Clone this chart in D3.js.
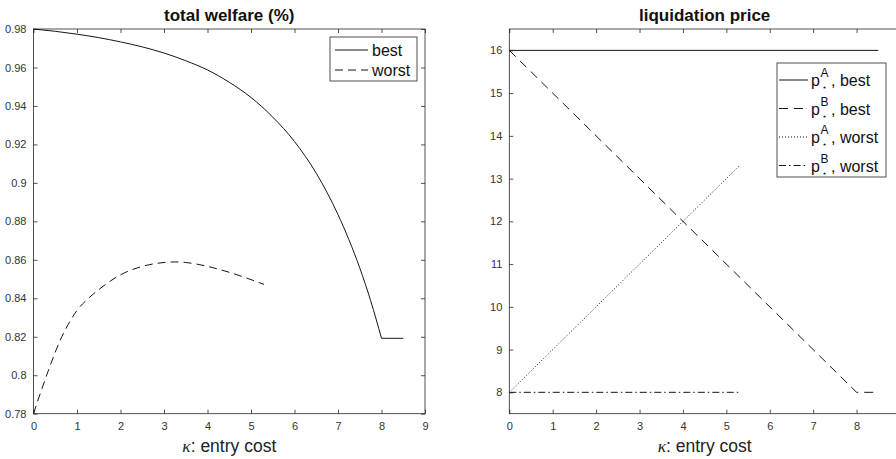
<!DOCTYPE html>
<html><head><meta charset="utf-8">
<script src="https://cdn.jsdelivr.net/npm/d3@7"></script>
<style>
body{margin:0;background:#fff;}
svg{display:block;font-family:"Liberation Sans",Arial,Helvetica,sans-serif;}
</style></head>
<body>
<svg id="c" width="896" height="459"></svg>
<script>
// ---- data ----
const kappaTicks = [0,1,2,3,4,5,6,7,8,9];
const kappaTicksRight = [0,1,2,3,4,5,6,7,8];
const welfareTicks = [0.78,0.8,0.82,0.84,0.86,0.88,0.9,0.92,0.94,0.96,0.98];
const priceTicks = [8,9,10,11,12,13,14,15,16];

const kappaBest = [0,0.5,1,1.5,2,2.5,3,3.5,4,4.5,5,5.5,6,6.5,7,7.25,7.5,7.75,8,8.5];
const welfareBest = [0.98,0.9788,0.9773,0.9755,0.9733,0.9707,0.9675,0.9635,0.9587,0.9523,0.9444,0.9342,0.9215,0.905,0.8835,0.8705,0.8558,0.8388,0.8192,0.8192];
const kappaWorst = [0,0.2,0.4,0.6,0.8,1,1.25,1.5,2,2.5,3,3.25,3.5,4,4.5,5,5.3];
const welfareWorst = [0.78,0.7934,0.806,0.8175,0.8265,0.8337,0.8397,0.8445,0.8522,0.8566,0.8586,0.8589,0.8586,0.8566,0.8535,0.8497,0.8472];

const kappaPABest = [0,8.5];   const pABest = [16,16];
const kappaPBBest = [0,8,8.5]; const pBBest = [16,8,8];
const kappaPAWorst = [0,5.3];  const pAWorst = [8,13.3];
const kappaPBWorst = [0,5.3];  const pBWorst = [8,8];

// ---- drawing ----
const svg = d3.select("#c");
const AX = "#262626";
const yTop = 29, yBot = 413.7;

function panel(x0, x1, yDomain, yTicks, yFmt, xTicks, title) {
  const g = svg.append("g");
  const x = d3.scaleLinear().domain([0,9]).range([x0,x1]);
  const y = d3.scaleLinear().domain(yDomain).range([yBot,yTop]);
  const tl = 4;
  g.append("rect").attr("x",x0).attr("y",yTop).attr("width",x1-x0).attr("height",yBot-yTop)
    .attr("fill","none").attr("stroke",AX).attr("stroke-width",0.8);
  const xb = g.append("g").attr("transform",`translate(0,${yBot})`)
    .call(d3.axisBottom(x).tickValues(xTicks).tickSize(-tl).tickPadding(9).tickFormat(d3.format("d")));
  const xt = g.append("g").attr("transform",`translate(0,${yTop})`)
    .call(d3.axisTop(x).tickValues(xTicks).tickSize(-tl).tickFormat(""));
  const yl = g.append("g").attr("transform",`translate(${x0},0)`)
    .call(d3.axisLeft(y).tickValues(yTicks).tickSize(-tl).tickPadding(7).tickFormat(yFmt));
  const yr = g.append("g").attr("transform",`translate(${x1},0)`)
    .call(d3.axisRight(y).tickValues(yTicks).tickSize(-tl).tickFormat(""));
  [xb,xt,yl,yr].forEach(a=>{
    a.select(".domain").remove();
    a.selectAll("line").attr("stroke",AX).attr("stroke-width",0.8);
    a.selectAll("text").attr("fill","#333").attr("font-size",11)
      .attr("font-family","'Liberation Sans',Arial,sans-serif");
  });
  svg.append("text").attr("x",(x0+Math.min(x1,900))/2).attr("y",21).attr("text-anchor","middle")
    .attr("font-weight","bold").attr("font-size",17).attr("fill","#111").text(title);
  const xl = svg.append("text").attr("x",(x0+x1)/2).attr("y",452).attr("text-anchor","middle")
    .attr("font-size",17.5).attr("fill","#222");
  xl.append("tspan").attr("font-style","italic").attr("font-family","'Liberation Serif',serif").text("κ");
  xl.append("tspan").text(": entry cost");
  return {g,x,y};
}

function drawLine(p, xs, ys, dash, curve) {
  const pts = xs.map((k,i)=>[k,ys[i]]);
  p.g.append("path").datum(pts)
    .attr("d", d3.line().x(d=>p.x(d[0])).y(d=>p.y(d[1])).curve(curve||d3.curveLinear))
    .attr("fill","none").attr("stroke","#151515").attr("stroke-width",1)
    .attr("stroke-dasharray",dash);
}

const fmtW = v => String(+v.toFixed(2));
const L = panel(33.5, 425, [0.78,0.98], welfareTicks, fmtW, kappaTicks, "total welfare (%)");
const R = panel(509.3, 900, [7.5,16.5], priceTicks, d3.format("d"), kappaTicksRight, "liquidation price");

// best welfare: smooth up to kappa = 8, then a flat piece
const iKink = kappaBest.indexOf(8);
drawLine(L, kappaBest.slice(0,iKink+1), welfareBest.slice(0,iKink+1), null, d3.curveMonotoneX);
drawLine(L, kappaBest.slice(iKink), welfareBest.slice(iKink), null);
drawLine(L, kappaWorst, welfareWorst, "8,5", d3.curveMonotoneX);

drawLine(R, kappaPABest, pABest, null);
drawLine(R, kappaPBBest, pBBest, "9,6");
drawLine(R, kappaPAWorst, pAWorst, "1,2");
drawLine(R, kappaPBWorst, pBWorst, "7,3,1.5,3");

// ---- legends ----
function legendBox(x,y,w,h){
  svg.append("rect").attr("x",x).attr("y",y).attr("width",w).attr("height",h)
    .attr("fill","#fff").attr("stroke",AX).attr("stroke-width",0.8);
}
function legLine(x0,x1,y,dash){
  svg.append("line").attr("x1",x0).attr("x2",x1).attr("y1",y).attr("y2",y)
    .attr("stroke","#151515").attr("stroke-width",1).attr("stroke-dasharray",dash);
}
const legL = [{t:"best",d:null},{t:"worst",d:"8,5"}];
legendBox(330,37,87,44);
legL.forEach((e,i)=>{
  const yy = 50 + i*20;
  legLine(335,368,yy,e.d);
  svg.append("text").attr("x",372).attr("y",yy+6).attr("font-size",16).attr("fill","#111").text(e.t);
});
const legR = [{s:"A",t:", best",d:null},{s:"B",t:", best",d:"9,6"},{s:"A",t:", worst",d:"1,2"},{s:"B",t:", worst",d:"7,3,1.5,3"}];
legendBox(777,63,109,114);
legR.forEach((e,i)=>{
  const yy = 80 + i*28.5;
  legLine(779,808,yy,e.d);
  const tx = 811;
  svg.append("text").attr("x",tx).attr("y",yy+6).attr("font-size",16).attr("fill","#111").text("p");
  svg.append("text").attr("x",tx+9.5).attr("y",yy-3).attr("font-size",12).attr("fill","#111").text(e.s);
  svg.append("text").attr("x",tx+10.5).attr("y",yy+10).attr("font-size",8).attr("fill","#111").text("⋆");
  svg.append("text").attr("x",tx+20).attr("y",yy+6).attr("font-size",16).attr("fill","#111").text(e.t);
});
</script>
</body></html>
